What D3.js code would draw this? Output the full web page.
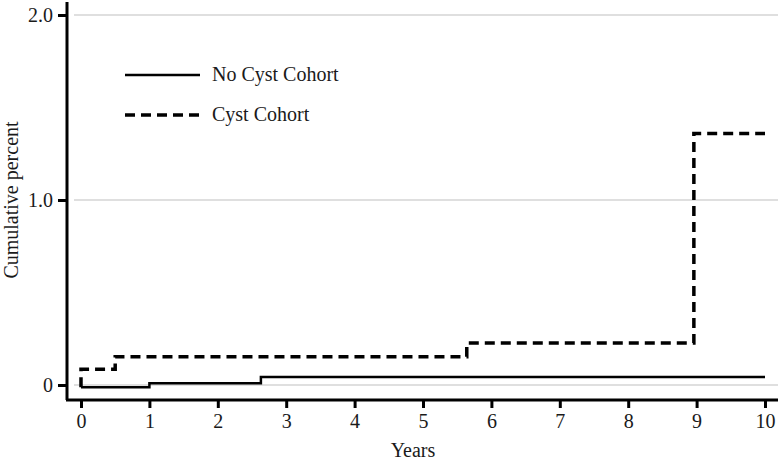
<!DOCTYPE html>
<html>
<head>
<meta charset="utf-8">
<script src="https://cdn.jsdelivr.net/npm/d3@7"></script>
<style>
  body { margin: 0; background: #fff; }
  text { font-family: "Liberation Serif", "Times New Roman", serif; fill: #1a1a1a; }
</style>
</head>
<body>
<div id="chart"></div>
<script>
// step data (years, cumulative percent)
const noCystTimes = [0, 1, 2.63, 10];
const noCystValues = [-0.012, 0.01, 0.043, 0.043];
const cystTimes = [0, 0, 0.5, 5.64, 8.96, 10];
const cystValues = [-0.012, 0.085, 0.153, 0.227, 1.36, 1.36];

const xTicks = [0, 1, 2, 3, 4, 5, 6, 7, 8, 9, 10];
const yTicks = [0, 1, 2];
const yTickLabels = ["0", "1.0", "2.0"];
const legendLabels = ["No Cyst Cohort", "Cyst Cohort"];

const width = 780, height = 461;

const svg = d3.select("#chart").append("svg")
    .attr("width", width)
    .attr("height", height);

const x = d3.scaleLinear().domain([0, 10]).range([81, 765]);
const y = d3.scaleLinear().domain([0, 2]).range([385, 15]);

// gridlines
svg.append("g")
  .selectAll("line")
  .data(yTicks)
  .join("line")
    .attr("x1", 74).attr("x2", 778)
    .attr("y1", d => y(d)).attr("y2", d => y(d))
    .style("stroke", "#d4d4d4")
    .style("stroke-width", 1.5);

// axes
const yAxis = svg.append("g")
    .attr("transform", "translate(67,0)")
    .call(d3.axisLeft(y).tickValues(yTicks).tickFormat((d, i) => yTickLabels[i]).tickSize(9).tickPadding(5));
yAxis.select(".domain").attr("d", "M0,2V400").style("stroke", "#000").style("stroke-width", 3);

const xAxis = svg.append("g")
    .attr("transform", "translate(0,400)")
    .call(d3.axisBottom(x).tickValues(xTicks).tickSize(8).tickPadding(6));
xAxis.select(".domain").attr("d", "M66,0H778").style("stroke", "#000").style("stroke-width", 3);

svg.selectAll(".tick line").style("stroke", "#000").style("stroke-width", 3);
svg.selectAll(".tick text")
    .style("font-family", "'Liberation Serif', serif")
    .style("font-size", "20px")
    .style("fill", "#1a1a1a");

// axis titles
svg.append("text")
    .attr("x", 413).attr("y", 457)
    .attr("text-anchor", "middle")
    .style("font-size", "20px")
    .text("Years");

svg.append("text")
    .attr("transform", "translate(18,200) rotate(-90)")
    .attr("text-anchor", "middle")
    .style("font-size", "20px")
    .text("Cumulative percent");

// step lines
const line = d3.line()
    .x(d => x(d[0]))
    .y(d => y(d[1]))
    .curve(d3.curveStepAfter);

svg.append("path")
    .datum(d3.zip(noCystTimes, noCystValues))
    .attr("d", line)
    .style("fill", "none")
    .style("stroke", "#000")
    .style("stroke-width", 2.5);

svg.append("path")
    .datum(d3.zip(cystTimes, cystValues))
    .attr("d", line)
    .style("fill", "none")
    .style("stroke", "#000")
    .style("stroke-width", 3.5)
    .style("stroke-dasharray", "10,6");

// legend
const legend = svg.append("g");
legendLabels.forEach((name, i) => {
    const ly = 75 + i * 40;
    legend.append("line")
        .attr("x1", 125).attr("x2", 200)
        .attr("y1", ly).attr("y2", ly)
        .style("stroke", "#000")
        .style("stroke-width", i === 0 ? 2.5 : 3.5)
        .style("stroke-dasharray", i === 0 ? null : "10,6");
    legend.append("text")
        .attr("x", 212).attr("y", ly + 6)
        .style("font-size", "20px")
        .text(name);
});
</script>
</body>
</html>
